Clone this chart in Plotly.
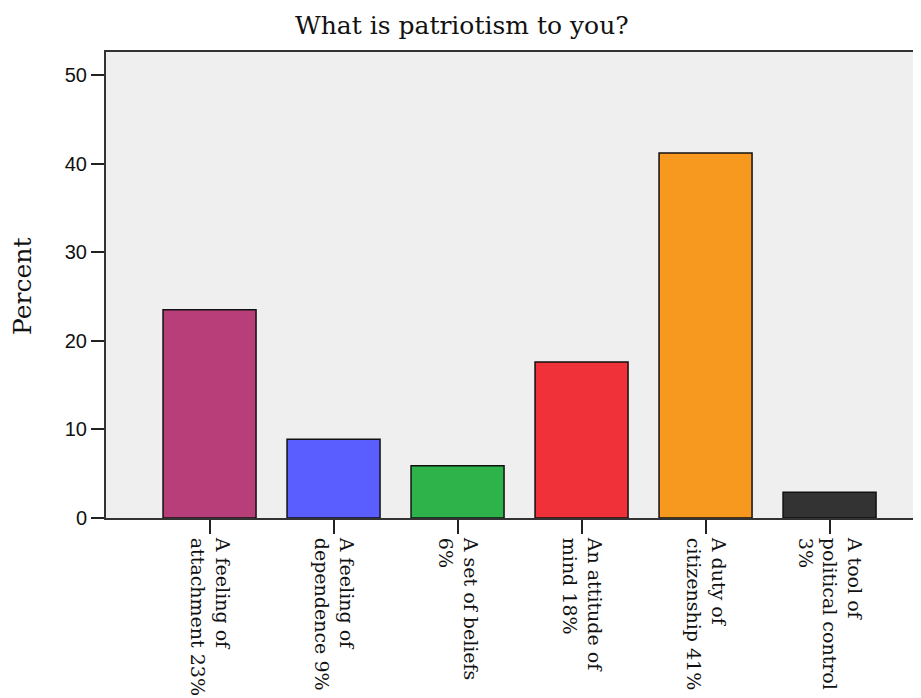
import plotly.graph_objects as go

categories = ["A feeling of<br>attachment 23%", "A feeling of<br>dependence 9%", "A set of beliefs<br>6%",
              "An attitude of<br>mind 18%", "A duty of<br>citizenship 41%", "A tool of<br>political control<br>3%"]
percent = [23.5, 8.9, 5.9, 17.6, 41.2, 2.9]
colors = ["#B83E7A", "#5A5EFF", "#2DB34A", "#F0313A", "#F7991F", "#333333"]
y_ticks = [0, 10, 20, 30, 40, 50]

fig = go.Figure(go.Bar(
    x=list(range(len(categories))), y=percent,
    marker=dict(color=colors, line=dict(color="#111111", width=1.5)),
    width=0.75,
))

fig.update_layout(
    width=921, height=698,
    margin=dict(l=98, r=0, t=44, b=188),
    paper_bgcolor="white", plot_bgcolor="#EFEFEF",
    showlegend=False,
    annotations=[
        dict(text="What is patriotism to you?", xref="paper", yref="paper",
             x=(453.5 - 98) / 823, y=1, xanchor="center", yanchor="top", yshift=43,
             showarrow=False, font=dict(family="DejaVu Serif", size=25, color="#111111")),
        dict(text="Percent", xref="paper", yref="paper", x=-0.1009, y=0.498,
             xanchor="center", yanchor="middle", textangle=-90, showarrow=False,
             font=dict(family="DejaVu Serif", size=25, color="#111111")),
    ],
)
fig.update_xaxes(
    range=[-0.835, 5.802], automargin=False,
    tickmode="array", tickvals=list(range(len(categories))), ticktext=categories,
    tickangle=90, ticks="outside", ticklen=14, tickwidth=2, tickcolor="#222222",
    tickfont=dict(family="DejaVu Serif", size=19, color="#111111"),
    showline=True, linecolor="#333333", linewidth=2, mirror=True,
    showgrid=False, zeroline=False,
)
fig.update_yaxes(
    range=[0, 52.6], automargin=False,
    tickmode="array", tickvals=y_ticks,
    ticks="outside", ticklen=13, tickwidth=2, tickcolor="#222222",
    tickfont=dict(family="Liberation Sans, Arial", size=20, color="#111111"),
    showline=True, linecolor="#333333", linewidth=2, mirror=False,
    showgrid=False, zeroline=False,
)

fig.write_html("out.html")
